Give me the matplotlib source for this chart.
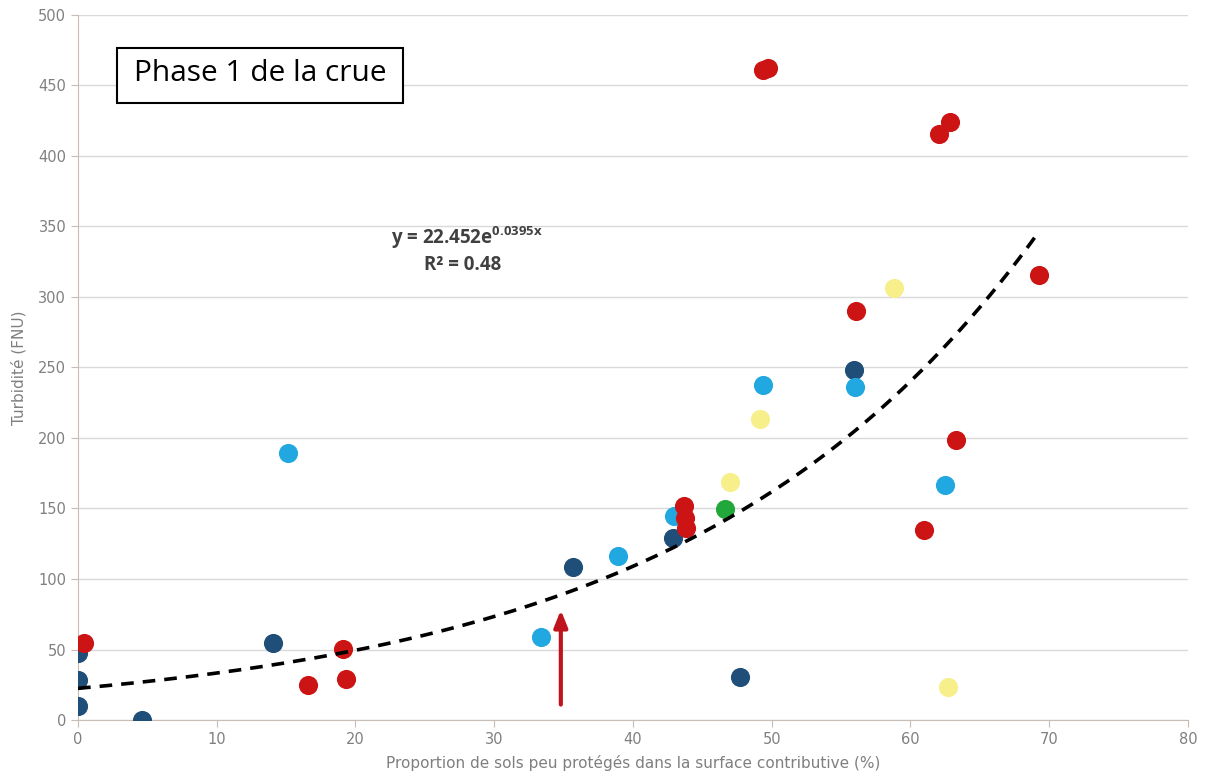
import numpy as np
import matplotlib
matplotlib.use("Agg")
import matplotlib.pyplot as plt
from matplotlib.patches import Rectangle

plt.rcParams["mathtext.fontset"] = "custom"
plt.rcParams["mathtext.rm"] = "Open Sans:bold"
plt.rcParams["mathtext.bf"] = "Open Sans:bold"
plt.rcParams["mathtext.default"] = "rm"

# Data
dark_x = [0, 0, 0, 4.6, 14.05, 35.7, 42.9, 47.7, 55.9]
dark_y = [47.5, 28.4, 10, 0, 54.6, 108.5, 129, 30.5, 248]

light_x = [15.1, 33.4, 38.9, 42.95, 49.4, 56.0, 62.5]
light_y = [189, 59, 116, 145, 237.6, 236, 167]

red_x = [0.43, 16.6, 19.1, 19.3, 43.7, 43.75, 43.8, 49.4, 49.7, 56.1, 62.05, 62.85, 60.97, 63.3, 69.3]
red_y = [54.6, 24.8, 50.4, 29, 152, 143, 136, 461, 462.4, 290, 415.6, 424, 134.8, 198.6, 315.6]

yellow_x = [58.8, 47.0, 49.15, 62.7]
yellow_y = [306, 169, 213.5, 23.4]

green_x = [46.6]
green_y = [149.6]

fit_a, fit_b = 22.452, 0.0395
fit_xmax = 69.2

xticks = [0, 10, 20, 30, 40, 50, 60, 70, 80]
yticks = [0, 50, 100, 150, 200, 250, 300, 350, 400, 450, 500]

fig = plt.figure(figsize=(12.06, 7.84), dpi=100)
ax = fig.add_axes([0.0647, 0.0816, 0.9203, 0.8994])

ms = 190
ax.scatter(dark_x, dark_y, s=ms, color="#1f4e79", zorder=3, linewidths=0)
ax.scatter(light_x, light_y, s=ms, color="#22a8e0", zorder=3, linewidths=0)
ax.scatter(yellow_x, yellow_y, s=ms, color="#f7ef8a", zorder=3, linewidths=0)
ax.scatter(green_x, green_y, s=ms, color="#22a83a", zorder=3, linewidths=0)
ax.scatter(red_x, red_y, s=ms, color="#cc1414", zorder=4, linewidths=0)

xf = np.linspace(0, fit_xmax, 200)
ax.plot(xf, fit_a * np.exp(fit_b * xf), ls=(0, (3.5, 2.5)), color="black", lw=2.6, zorder=5)

ax.annotate("", xy=(34.8, 80), xytext=(34.8, 9),
            arrowprops=dict(arrowstyle="-|>,head_width=0.4,head_length=1.0", color="#c0141c", lw=3),
            zorder=6)

ax.text(28.0, 342, r"y = 22.452e$^{0.0395x}$", ha="center", va="center",
        fontsize=13.5, color="#404040", fontweight="bold", family="Open Sans")
ax.text(27.7, 323, "R² = 0.48", ha="center", va="center",
        fontsize=13.5, color="#404040", fontweight="bold", family="Open Sans")

ax.add_patch(Rectangle((0.0351, 0.875), 0.2577, 0.078, transform=ax.transAxes,
                       fc="white", ec="black", lw=1.5, zorder=6))
ax.text(0.164, 0.917, "Phase 1 de la crue", transform=ax.transAxes, ha="center", va="center",
        fontsize=21.5, color="black", family="Open Sans", zorder=7)

ax.set_xlim(0, 80)
ax.set_ylim(0, 500)
ax.set_xticks(xticks)
ax.set_yticks(yticks)
ax.grid(axis="y", color="#d9d9d9", lw=1)
ax.set_axisbelow(True)
for s in ["top", "right"]:
    ax.spines[s].set_visible(False)
for s in ["left", "bottom"]:
    ax.spines[s].set_color("#c8bcb4")
ax.tick_params(colors="#c8bcb4", labelcolor="#808080", labelsize=10.5, length=5)
ax.set_xlabel("Proportion de sols peu protégés dans la surface contributive (%)", color="#7f7f7f", fontsize=11, labelpad=6)
ax.set_ylabel("Turbidité (FNU)", color="#7f7f7f", fontsize=11, labelpad=8)

fig.savefig("out.png", dpi=100, facecolor="white")
